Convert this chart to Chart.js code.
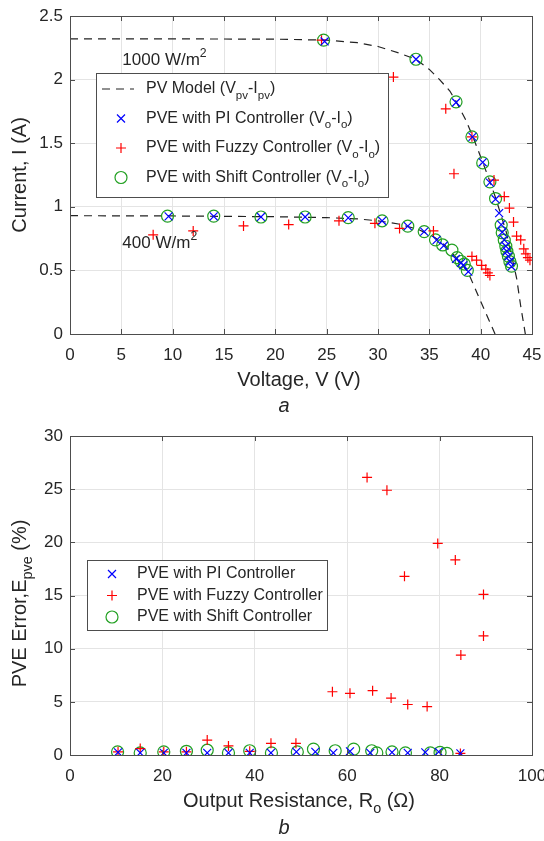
<!DOCTYPE html>
<html lang="en">
<head>
<meta charset="UTF-8">
<title>PVE | I-V curves and error</title>
<script src="https://cdn.jsdelivr.net/npm/chart.js"></script>
<style>
    body { margin: 0; background: #fff; }
    .painel { position: absolute; left: 0; width: 544px; }
</style>
</head>
<body>
<div class="painel" style="top:0;height:420px"><canvas id="chartIV"></canvas></div>
<div class="painel" style="top:420px;height:421px"><canvas id="chartErr"></canvas></div>

<script>
// ---- (a) I-V curves ----
const voltageTicks = [0, 5, 10, 15, 20, 25, 30, 35, 40, 45];
const currentTicks = [0, 0.5, 1, 1.5, 2, 2.5];

// PV model
const modelV1000 = [0, 10, 20, 25, 28, 30, 32, 33.7, 35, 36, 37, 37.6, 38.5, 39.2, 40.2, 40.9, 41.5, 42, 42.5, 43, 43.5, 43.9, 44.35];
const modelI1000 = [2.32, 2.32, 2.318, 2.31, 2.29, 2.26, 2.21, 2.16, 2.08, 2.0, 1.91, 1.83, 1.69, 1.56, 1.35, 1.2, 1.06, 0.93, 0.8, 0.62, 0.44, 0.22, 0];
const modelV400 = [0, 10, 20, 25, 28, 30, 32, 34, 35.5, 36.5, 37.5, 38.3, 38.8, 39.5, 40.2, 40.8, 41.4];
const modelI400 = [0.93, 0.928, 0.922, 0.915, 0.905, 0.89, 0.865, 0.82, 0.76, 0.7, 0.61, 0.54, 0.48, 0.35, 0.22, 0.11, 0];

const piV = [24.8, 33.7, 37.6, 39.2, 40.2, 40.9, 41.45, 41.8, 42.0, 42.1, 42.3, 42.45, 42.55, 42.7, 42.85, 43.0,
    9.6, 14.0, 18.6, 22.9, 27.1, 30.4, 32.9, 34.5, 35.7, 36.4, 37.6, 38.1, 38.3, 38.8];
const piI = [2.30, 2.16, 1.82, 1.55, 1.35, 1.19, 1.06, 0.95, 0.86, 0.80, 0.74, 0.69, 0.65, 0.61, 0.57, 0.53,
    0.925, 0.925, 0.92, 0.92, 0.913, 0.89, 0.848, 0.805, 0.738, 0.694, 0.59, 0.56, 0.54, 0.49];

const fuzzyV = [24.5, 31.5, 36.6, 37.4, 39.15, 41.3, 42.3, 42.8, 43.2, 43.5, 43.9, 44.2, 44.4, 44.6, 44.8,
    8.1, 12.0, 16.9, 21.3, 26.2, 29.7, 32.1, 35.4, 39.15, 39.6, 40.1, 40.5, 40.7, 40.9];
const fuzzyI = [2.31, 2.02, 1.77, 1.26, 1.55, 1.21, 1.08, 0.99, 0.88, 0.77, 0.74, 0.67, 0.63, 0.60, 0.58,
    0.78, 0.81, 0.85, 0.86, 0.89, 0.87, 0.83, 0.81, 0.61, 0.58, 0.54, 0.51, 0.48, 0.46];

const shiftV = [24.7, 33.7, 37.6, 39.15, 40.2, 40.9, 41.45, 42.0, 42.1, 42.3, 42.45, 42.55, 42.7, 42.85, 43.0,
    9.5, 14.0, 18.6, 22.9, 27.1, 30.4, 32.9, 34.5, 35.6, 36.3, 37.2, 37.7, 38.1, 38.4, 38.7];
const shiftI = [2.31, 2.16, 1.825, 1.55, 1.345, 1.196, 1.065, 0.856, 0.796, 0.738, 0.69, 0.652, 0.612, 0.568, 0.534,
    0.927, 0.927, 0.92, 0.92, 0.915, 0.89, 0.848, 0.805, 0.74, 0.70, 0.66, 0.60, 0.57, 0.55, 0.50];

// ---- (b) PVE error ----
const resistanceTicks = [0, 20, 40, 60, 80, 100];
const errorTicks = [0, 5, 10, 15, 20, 25, 30];

const piR = [10.4, 15.2, 20.3, 25.2, 29.7, 34.3, 38.9, 43.5, 49.0, 53.1, 57.0, 60.6, 65.0, 69.7, 73.1, 76.9, 79.8, 84.5];
const piErr = [0.25, 0.2, 0.2, 0.2, 0.2, 0.2, 0.2, 0.2, 0.3, 0.3, 0.2, 0.35, 0.2, 0.25, 0.2, 0.25, 0.3, 0.15];

const fuzzyR = [10.4, 15.2, 20.3, 25.2, 29.7, 34.3, 38.9, 43.5, 48.9, 56.8, 60.6, 64.3, 65.5, 68.6, 69.5, 72.4, 73.1, 77.3, 79.6, 83.4, 84.5, 84.6, 89.5, 89.5];
const fuzzyErr = [0.3, 0.6, 0.3, 0.3, 1.4, 0.85, 0.35, 1.1, 1.1, 5.95, 5.8, 26.1, 6.05, 24.9, 5.35, 16.8, 4.75, 4.55, 19.9, 18.35, 0.15, 9.4, 15.1, 11.2];

const shiftR = [10.3, 15.2, 20.3, 25.2, 29.7, 34.3, 38.9, 43.6, 49.2, 52.7, 57.4, 61.4, 65.3, 66.4, 69.7, 72.6, 78.0, 80.1, 81.6];
const shiftErr = [0.3, 0.2, 0.3, 0.35, 0.45, 0.2, 0.4, 0.2, 0.3, 0.55, 0.4, 0.55, 0.4, 0.2, 0.3, 0.2, 0.2, 0.25, 0.15];

const FONTE = '"Liberation Sans", Arial, sans-serif';
const TEXTO = '#262626';
const AZUL = '#0000ff', VERMELHO = '#ff0000', VERDE = '#22a022';

function pares(xs, ys) {
    return xs.map(function (x, i) { return { x: x, y: ys[i] }; });
}

function fonte(tam, italico) {
    return (italico ? 'italic ' : '') + tam + 'px ' + FONTE;
}

// texto com subscrito (1) e sobrescrito (2)
function textoRico(ctx, partes, x, y, tam, alinhar) {
    let largura = 0;
    partes.forEach(function (p) {
        ctx.font = fonte(p[1] ? tam * 0.72 : tam);
        largura += ctx.measureText(p[0]).width;
    });
    let cx = alinhar === 'center' ? x - largura / 2 : x;
    ctx.textAlign = 'left';
    ctx.textBaseline = 'middle';
    ctx.fillStyle = TEXTO;
    partes.forEach(function (p) {
        const t = p[1] ? tam * 0.72 : tam;
        ctx.font = fonte(t);
        const dy = p[1] === 1 ? tam * 0.4 : (p[1] === 2 ? -tam * 0.38 : 0);
        ctx.fillText(p[0], cx, y + dy);
        cx += ctx.measureText(p[0]).width;
    });
}

function marcador(ctx, tipo, x, y) {
    ctx.beginPath();
    if (tipo === 'x') {
        ctx.strokeStyle = AZUL;
        ctx.moveTo(x - 4, y - 4); ctx.lineTo(x + 4, y + 4);
        ctx.moveTo(x - 4, y + 4); ctx.lineTo(x + 4, y - 4);
    } else if (tipo === '+') {
        ctx.strokeStyle = VERMELHO;
        ctx.moveTo(x - 5, y); ctx.lineTo(x + 5, y);
        ctx.moveTo(x, y - 5); ctx.lineTo(x, y + 5);
    } else if (tipo === 'o') {
        ctx.strokeStyle = VERDE;
        ctx.arc(x, y, 6, 0, Math.PI * 2);
    } else {
        ctx.strokeStyle = '#222';
        ctx.setLineDash([8, 6]);
        ctx.moveTo(x - 19, y); ctx.lineTo(x + 13, y);
    }
    ctx.lineWidth = 1.2;
    ctx.stroke();
    ctx.setLineDash([]);
}

// caixa, ticks internos, legenda e titulos no estilo MATLAB
function pluginMoldura(cfg) {
    return {
        id: 'moldura',
        afterDraw: function (chart) {
            const ctx = chart.ctx;
            const a = chart.chartArea;
            const sx = chart.scales.x, sy = chart.scales.y;
            ctx.save();
            ctx.strokeStyle = '#4d4d4d';
            ctx.lineWidth = 1;
            ctx.beginPath();
            sx.ticks.forEach(function (t) {
                const px = Math.round(sx.getPixelForValue(t.value)) + 0.5;
                ctx.moveTo(px, a.bottom); ctx.lineTo(px, a.bottom - 5);
                ctx.moveTo(px, a.top); ctx.lineTo(px, a.top + 5);
            });
            sy.ticks.forEach(function (t) {
                const py = Math.round(sy.getPixelForValue(t.value)) + 0.5;
                ctx.moveTo(a.left, py); ctx.lineTo(a.left + 5, py);
                ctx.moveTo(a.right, py); ctx.lineTo(a.right - 5, py);
            });
            ctx.stroke();
            ctx.strokeRect(Math.round(a.left) + 0.5, Math.round(a.top) + 0.5,
                Math.round(a.right - a.left), Math.round(a.bottom - a.top));

            // anotacoes
            (cfg.notas || []).forEach(function (n) {
                textoRico(ctx, n.partes, sx.getPixelForValue(n.x), sy.getPixelForValue(n.y), 17, 'left');
            });

            // legenda
            const L = cfg.legenda;
            ctx.fillStyle = '#fff';
            ctx.fillRect(L.x, L.y, L.w, L.h);
            ctx.strokeStyle = '#4d4d4d';
            ctx.strokeRect(L.x + 0.5, L.y + 0.5, L.w, L.h);
            L.itens.forEach(function (it, i) {
                const yy = L.y + L.primeiro + i * L.passo;
                marcador(ctx, it.tipo, L.x + L.mx, yy);
                textoRico(ctx, it.partes, L.x + L.tx, yy, 16, 'left');
            });

            // titulos dos eixos
            textoRico(ctx, cfg.tituloX, (a.left + a.right) / 2 - 2, a.bottom + 46, 20, 'center');
            ctx.save();
            ctx.translate(20, (a.top + a.bottom) / 2 + cfg.ajusteY);
            ctx.rotate(-Math.PI / 2);
            textoRico(ctx, cfg.tituloY, 0, 0, 20, 'center');
            ctx.restore();
            ctx.font = fonte(20, true);
            ctx.textAlign = 'center';
            ctx.textBaseline = 'middle';
            ctx.fillStyle = TEXTO;
            ctx.fillText(cfg.letra, (a.left + a.right) / 2 - 17, a.bottom + cfg.letraY);
            ctx.restore();
        }
    };
}

function escala(min, max, ticks, lado) {
    return {
        type: 'linear',
        min: min,
        max: max,
        afterBuildTicks: function (s) { s.ticks = ticks.map(function (v) { return { value: v }; }); },
        afterFit: function (s) {
            if (lado === 'x') s.height = 86; else s.width = 70;
            s.paddingLeft = 0; s.paddingRight = 0;
            s.paddingTop = 0; s.paddingBottom = 0;
        },
        grid: { color: '#e4e4e4', drawTicks: false },
        border: { display: false },
        ticks: {
            padding: lado === 'x' ? 11 : 7,
            color: TEXTO,
            font: { family: FONTE, size: 17 },
            maxRotation: 0,
            autoSkip: false,
            callback: function (v) { return String(v); }
        }
    };
}

function serie(rotulo, dados, estilo, cor, raio, ordem) {
    return {
        label: rotulo,
        data: dados,
        showLine: false,
        pointStyle: estilo,
        pointRadius: raio,
        pointBorderColor: cor,
        pointBackgroundColor: 'transparent',
        pointBorderWidth: 1.2,
        order: ordem
    };
}

function modelo(dados) {
    return {
        label: 'PV Model',
        data: dados,
        showLine: true,
        borderColor: '#222',
        borderWidth: 1.2,
        borderDash: [8, 6],
        pointRadius: 0,
        fill: false,
        order: 4
    };
}

const opcoesBase = {
    responsive: true,
    maintainAspectRatio: false,
    animation: false,
    layout: { padding: { left: 0, right: 12, top: 16, bottom: 0 } },
    plugins: { legend: { display: false }, tooltip: { enabled: false } }
};

new Chart(document.getElementById('chartIV'), {
    type: 'scatter',
    data: {
        datasets: [
            serie('PVE with PI Controller', pares(piV, piI), 'crossRot', AZUL, 5.6, 0),
            serie('PVE with Fuzzy Controller', pares(fuzzyV, fuzzyI), 'cross', VERMELHO, 5, 1),
            serie('PVE with Shift Controller', pares(shiftV, shiftI), 'circle', VERDE, 6, 2),
            modelo(pares(modelV1000, modelI1000)),
            modelo(pares(modelV400, modelI400))
        ]
    },
    options: Object.assign({}, opcoesBase, {
        scales: { x: escala(0, 45, voltageTicks, 'x'), y: escala(0, 2.5, currentTicks, 'y') }
    }),
    plugins: [pluginMoldura({
        notas: [
            { x: 5.1, y: 2.15, partes: [['1000 W/m', 0], ['2', 2]] },
            { x: 5.1, y: 0.715, partes: [['400 W/m', 0], ['2', 2]] }
        ],
        legenda: {
            x: 96, y: 73, w: 292, h: 124, mx: 25, tx: 50, primeiro: 16, passo: 29.5,
            itens: [
                { tipo: '-', partes: [['PV Model (V', 0], ['pv', 1], ['-I', 0], ['pv', 1], [')', 0]] },
                { tipo: 'x', partes: [['PVE with PI Controller (V', 0], ['o', 1], ['-I', 0], ['o', 1], [')', 0]] },
                { tipo: '+', partes: [['PVE with Fuzzy Controller (V', 0], ['o', 1], ['-I', 0], ['o', 1], [')', 0]] },
                { tipo: 'o', partes: [['PVE with Shift Controller (V', 0], ['o', 1], ['-I', 0], ['o', 1], [')', 0]] }
            ]
        },
        tituloX: [['Voltage, V (V)', 0]],
        tituloY: [['Current, I (A)', 0]],
        ajusteY: 0,
        letra: 'a',
        letraY: 72
    })]
});

new Chart(document.getElementById('chartErr'), {
    type: 'scatter',
    data: {
        datasets: [
            serie('PVE with PI Controller', pares(piR, piErr), 'crossRot', AZUL, 5.6, 0),
            serie('PVE with Fuzzy Controller', pares(fuzzyR, fuzzyErr), 'cross', VERMELHO, 5, 1),
            serie('PVE with Shift Controller', pares(shiftR, shiftErr), 'circle', VERDE, 6, 2)
        ]
    },
    options: Object.assign({}, opcoesBase, {
        scales: { x: escala(0, 100, resistanceTicks, 'x'), y: escala(0, 30, errorTicks, 'y') }
    }),
    plugins: [pluginMoldura({
        notas: [],
        legenda: {
            x: 87, y: 560 - 420, w: 240, h: 70, mx: 25, tx: 50, primeiro: 14, passo: 21.5,
            itens: [
                { tipo: 'x', partes: [['PVE with PI Controller', 0]] },
                { tipo: '+', partes: [['PVE with Fuzzy Controller', 0]] },
                { tipo: 'o', partes: [['PVE with Shift Controller', 0]] }
            ]
        },
        tituloX: [['Output Resistance, R', 0], ['o', 1], [' (\u03A9)', 0]],
        tituloY: [['PVE Error,E', 0], ['pve', 1], [' (%)', 0]],
        ajusteY: 8,
        letra: 'b',
        letraY: 73
    })]
});
</script>
</body>
</html>
